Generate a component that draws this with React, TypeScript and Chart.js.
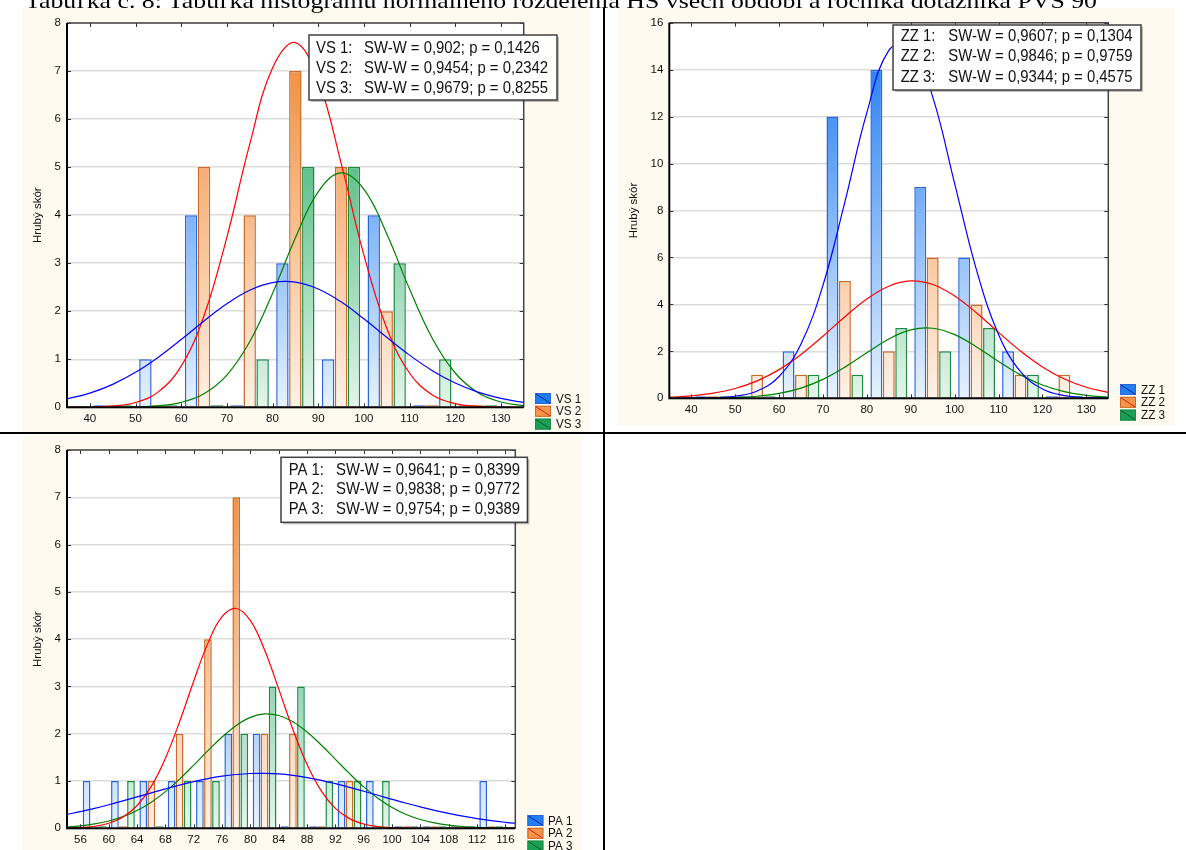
import React, { useEffect, useRef } from 'react';
import { Chart, registerables } from 'chart.js';

Chart.register(...registerables);

const FONT = '"Liberation Sans", Arial, Helvetica, sans-serif';
const SERIF = '"Liberation Serif", "Times New Roman", serif';
const CREAM = '#fefaef';
const TITLE = 'Tabuľka č. 8: Tabuľka histogramu normálneho rozdelenia HS všech období a ročníka dotazníka PVS 90';
const Y_TITLE = 'Hrubý skór';

// ---------------- VS panel ----------------
const vsNames = ['VS 1', 'VS 2', 'VS 3'];
const vsStats = ['SW-W = 0,902; p = 0,1426', 'SW-W = 0,9454; p = 0,2342', 'SW-W = 0,9679; p = 0,8255'];
const vsBins = [45, 55, 65, 75, 85, 95, 105, 115, 125];
const vs1Counts = [0, 1, 4, 0, 3, 1, 4, 0, 0];
const vs2Counts = [0, 0, 5, 4, 7, 5, 2, 0, 0];
const vs3Counts = [0, 0, 0, 1, 5, 5, 3, 1, 0];
const vsXTicks = [40, 50, 60, 70, 80, 90, 100, 110, 120, 130];
const vsYTicks = [0, 1, 2, 3, 4, 5, 6, 7, 8];
const vsCurveX = [35, 40, 45, 50, 55, 60, 65, 70, 75, 80, 85, 90, 95, 100, 105, 110, 115, 120, 125, 130, 135];
const vs1Curve = [0.173, 0.296, 0.478, 0.728, 1.044, 1.411, 1.797, 2.156, 2.437, 2.596, 2.605, 2.463, 2.195, 1.842, 1.457, 1.086, 0.763, 0.505, 0.315, 0.185, 0.102];
const vs2Curve = [0.001, 0.006, 0.026, 0.1, 0.321, 0.856, 1.907, 3.539, 5.474, 7.061, 7.593, 6.808, 5.09, 3.172, 1.649, 0.714, 0.258, 0.078, 0.02, 0.004, 0.001];
const vs3Curve = [0, 0, 0.002, 0.008, 0.031, 0.102, 0.282, 0.671, 1.363, 2.371, 3.526, 4.485, 4.88, 4.541, 3.615, 2.461, 1.433, 0.714, 0.304, 0.111, 0.035];

// ---------------- ZZ panel ----------------
const zzNames = ['ZZ 1', 'ZZ 2', 'ZZ 3'];
const zzStats = ['SW-W = 0,9607; p = 0,1304', 'SW-W = 0,9846; p = 0,9759', 'SW-W = 0,9344; p = 0,4575'];
const zzBins = [45, 55, 65, 75, 85, 95, 105, 115, 125];
const zz1Counts = [0, 0, 2, 12, 14, 9, 6, 2, 0];
const zz2Counts = [0, 1, 1, 5, 2, 6, 4, 1, 1];
const zz3Counts = [0, 0, 1, 1, 3, 2, 3, 1, 0];
const zzXTicks = [40, 50, 60, 70, 80, 90, 100, 110, 120, 130];
const zzYTicks = [0, 2, 4, 6, 8, 10, 12, 14, 16];
const zzCurveX = [35, 40, 45, 50, 55, 60, 65, 70, 75, 80, 85, 90, 95, 100, 105, 110, 115, 120, 125, 130, 135];
const zz1Curve = [0.001, 0.004, 0.021, 0.088, 0.313, 0.93, 2.314, 4.81, 8.368, 12.17, 14.82, 15.08, 12.84, 9.149, 5.452, 2.716, 1.132, 0.395, 0.115, 0.028, 0.006];
const zz2Curve = [0.047, 0.105, 0.217, 0.417, 0.741, 1.222, 1.867, 2.645, 3.474, 4.231, 4.776, 4.998, 4.849, 4.361, 3.636, 2.81, 2.014, 1.337, 0.824, 0.47, 0.249];
const zz3Curve = [0.001, 0.003, 0.011, 0.033, 0.088, 0.207, 0.434, 0.806, 1.328, 1.944, 2.526, 2.914, 2.984, 2.713, 2.19, 1.569, 0.998, 0.564, 0.283, 0.126, 0.05];

// ---------------- PA panel ----------------
const paNames = ['PA 1', 'PA 2', 'PA 3'];
const paStats = ['SW-W = 0,9641; p = 0,8399', 'SW-W = 0,9838; p = 0,9772', 'SW-W = 0,9754; p = 0,9389'];
const paBins = [58, 62, 66, 70, 74, 78, 82, 86, 90, 94, 98, 102, 106, 110, 114];
const pa1Counts = [1, 1, 1, 1, 1, 2, 2, 0, 0, 1, 1, 0, 0, 0, 1];
const pa2Counts = [0, 0, 1, 2, 4, 7, 2, 2, 0, 1, 0, 0, 0, 0, 0];
const pa3Counts = [0, 1, 0, 1, 1, 2, 3, 3, 1, 1, 1, 0, 0, 0, 0];
const paXTicks = [56, 60, 64, 68, 72, 76, 80, 84, 88, 92, 96, 100, 104, 108, 112, 116];
const paYTicks = [0, 1, 2, 3, 4, 5, 6, 7, 8];
const paCurveX = [54, 56, 58, 60, 62, 64, 66, 68, 70, 72, 74, 76, 78, 80, 82, 84, 86, 88, 90, 92, 94, 96, 98, 100, 102, 104, 106, 108, 110, 112, 114, 116, 118];
const pa1Curve = [0.29, 0.352, 0.422, 0.498, 0.579, 0.664, 0.75, 0.834, 0.914, 0.987, 1.051, 1.102, 1.138, 1.159, 1.162, 1.149, 1.118, 1.073, 1.014, 0.944, 0.867, 0.784, 0.698, 0.613, 0.53, 0.452, 0.379, 0.314, 0.256, 0.205, 0.162, 0.127, 0.097];
const pa2Curve = [0.005, 0.016, 0.044, 0.107, 0.238, 0.482, 0.886, 1.483, 2.254, 3.116, 3.916, 4.474, 4.648, 4.39, 3.769, 2.943, 2.088, 1.348, 0.791, 0.422, 0.205, 0.09, 0.036, 0.013, 0.004, 0.001, 0, 0, 0, 0, 0, 0, 0];
const pa3Curve = [0.029, 0.053, 0.092, 0.154, 0.246, 0.377, 0.552, 0.775, 1.04, 1.336, 1.642, 1.932, 2.176, 2.345, 2.418, 2.386, 2.254, 2.037, 1.762, 1.459, 1.155, 0.876, 0.636, 0.441, 0.293, 0.186, 0.114, 0.066, 0.037, 0.02, 0.01, 0.005, 0.002];

// ---------------- styles ----------------
const STYLES = [
  { pale: '#e7f2fd', sat: '#1474f0', border: '#2a66d8', curve: '#0000ff', swatch: '#1f7ef2', swatchLine: '#0b2590' },
  { pale: '#fdf2e7', sat: '#f2842c', border: '#c96a26', curve: '#ff0000', swatch: '#f5964a', swatchLine: '#e01818' },
  { pale: '#e3f5ea', sat: '#12a054', border: '#1c8a45', curve: '#008000', swatch: '#1aa055', swatchLine: '#0a5a25' },
];

type Spec = {
  left: number; top: number; width: number; height: number;
  plot: { l: number; t: number; r: number; b: number };
  xMin: number; xMax: number; xTicks: number[]; yMax: number; yTicks: number[];
  bins: number[]; counts: number[][]; curveX: number[]; curves: number[][];
  names: string[]; stats: string[];
  box: { x: number; y: number; w: number; h: number; labelX: number; textX: number; lines: number[] };
  legend: { x: number; y: number; tx: number };
};

function squeezed(ctx: CanvasRenderingContext2D, text: string, x: number, y: number, k: number) {
  ctx.save();
  ctx.translate(x, y);
  ctx.scale(k, 1);
  ctx.fillText(text, 0, 0);
  ctx.restore();
}

function Panel({ spec }: { spec: Spec }) {
  const ref = useRef<HTMLCanvasElement>(null);
  useEffect(() => {
    const p = spec;
    const canvas = ref.current as HTMLCanvasElement;
    const decor = {
      id: 'decor',
      beforeDraw(chart: any) {
        const { ctx, chartArea: a, width, height } = chart;
        ctx.save();
        ctx.fillStyle = CREAM;
        ctx.fillRect(0, 0, width, height);
        ctx.fillStyle = '#ffffff';
        ctx.fillRect(a.left, a.top, a.right - a.left, a.bottom - a.top);
        ctx.restore();
      },
      afterDatasetsDraw(chart: any) {
        const { ctx, chartArea: a, scales } = chart;
        const xs = scales.x;
        const ys = scales.y;
        ctx.save();
        ctx.strokeStyle = '#333333';
        ctx.lineWidth = 1;
        ctx.beginPath();
        for (const v of p.xTicks) {
          const px = Math.round(xs.getPixelForValue(v)) + 0.5;
          ctx.moveTo(px, a.top);
          ctx.lineTo(px, a.top + 4);
          ctx.moveTo(px, a.bottom);
          ctx.lineTo(px, a.bottom - 4);
        }
        for (const v of p.yTicks) {
          const py = Math.round(ys.getPixelForValue(v)) + 0.5;
          ctx.moveTo(a.left, py);
          ctx.lineTo(a.left + 4, py);
          ctx.moveTo(a.right, py);
          ctx.lineTo(a.right - 4, py);
        }
        ctx.stroke();
        ctx.strokeStyle = '#444444';
        ctx.lineWidth = 1.5;
        ctx.beginPath();
        ctx.moveTo(a.left, a.top);
        ctx.lineTo(a.right, a.top);
        ctx.lineTo(a.right, a.bottom);
        ctx.stroke();
        ctx.strokeStyle = '#000000';
        ctx.lineWidth = 2;
        ctx.beginPath();
        ctx.moveTo(a.left, a.top);
        ctx.lineTo(a.left, a.bottom);
        ctx.lineTo(a.right, a.bottom);
        ctx.stroke();
        ctx.restore();
      },
      afterDraw(chart: any) {
        const ctx: CanvasRenderingContext2D = chart.ctx;
        const b = p.box;
        ctx.save();
        ctx.fillStyle = 'rgba(0,0,0,0.25)';
        ctx.fillRect(b.x + 2, b.y + 2, b.w, b.h);
        ctx.fillStyle = '#ffffff';
        ctx.fillRect(b.x, b.y, b.w, b.h);
        ctx.strokeStyle = '#404040';
        ctx.lineWidth = 1.5;
        ctx.strokeRect(b.x, b.y, b.w, b.h);
        ctx.fillStyle = '#111111';
        ctx.font = `17px ${FONT}`;
        ctx.textBaseline = 'middle';
        ctx.textAlign = 'left';
        p.names.forEach((n, i) => {
          squeezed(ctx, n + ':', b.labelX, b.lines[i], 0.875);
          squeezed(ctx, p.stats[i], b.textX, b.lines[i], 0.875);
        });
        const L = p.legend;
        ctx.font = `13px ${FONT}`;
        p.names.forEach((n, i) => {
          const st = STYLES[i];
          const y = L.y + i * 12.8;
          ctx.fillStyle = st.swatch;
          ctx.fillRect(L.x, y, 16, 11);
          ctx.strokeStyle = st.border;
          ctx.lineWidth = 1;
          ctx.strokeRect(L.x + 0.5, y + 0.5, 15, 10);
          ctx.strokeStyle = st.swatchLine;
          ctx.beginPath();
          ctx.moveTo(L.x + 1, y + 1);
          ctx.lineTo(L.x + 15, y + 10);
          ctx.stroke();
          ctx.fillStyle = '#111111';
          squeezed(ctx, n, L.tx, y + 6, 0.9);
        });
        ctx.restore();
      },
    };

    const lineSets = p.curves.map((c, i) => ({
      type: 'line' as const,
      label: p.names[i] + ' curve',
      data: p.curveX.map((x, j) => ({ x, y: c[j] })),
      borderColor: STYLES[i].curve,
      borderWidth: 1.2,
      pointRadius: 0,
      tension: 0.4,
      fill: false,
      order: 0,
    }));
    const barSets = p.counts.map((c, i) => ({
      type: 'bar' as const,
      label: p.names[i],
      data: p.bins.map((x, j) => ({ x, y: c[j] })),
      backgroundColor: (ctx: any) => {
        const a = ctx.chart.chartArea;
        if (!a) return STYLES[i].sat;
        const g = ctx.chart.ctx.createLinearGradient(0, a.bottom, 0, a.top);
        g.addColorStop(0, STYLES[i].pale);
        g.addColorStop(1, STYLES[i].sat);
        return g;
      },
      borderColor: STYLES[i].border,
      borderWidth: 1.5,
      categoryPercentage: 0.85,
      barPercentage: 0.96,
      minBarLength: 2,
      order: 1,
    }));

    const tickFont = { family: FONT, size: 11.5 };
    const chart = new Chart(canvas, {
      type: 'bar',
      data: { datasets: [...lineSets, ...barSets] as any },
      options: {
        responsive: false,
        animation: false,
        devicePixelRatio: 1,
        layout: {
          padding: { left: 0, top: p.plot.t, right: p.width - p.plot.r, bottom: p.height - p.plot.b - 20 },
        },
        plugins: { legend: { display: false }, tooltip: { enabled: false }, title: { display: false } },
        scales: {
          x: {
            type: 'linear',
            min: p.xMin,
            max: p.xMax,
            offset: false,
            afterBuildTicks: (ax: any) => { ax.ticks = p.xTicks.map((v) => ({ value: v })); },
            afterFit: (ax: any) => { ax.height = 20; },
            grid: { display: false, drawTicks: false },
            border: { display: false },
            ticks: { font: tickFont, color: '#111111', padding: 5, maxRotation: 0, autoSkip: false },
          },
          y: {
            type: 'linear',
            min: 0,
            max: p.yMax,
            afterBuildTicks: (ax: any) => { ax.ticks = p.yTicks.map((v) => ({ value: v })); },
            afterFit: (ax: any) => { ax.width = p.plot.l; },
            grid: { color: '#dcdcdc', lineWidth: 1.5, drawTicks: false },
            border: { display: false },
            ticks: { font: tickFont, color: '#111111', padding: 6, autoSkip: false },
            title: { display: true, text: Y_TITLE, font: tickFont, color: '#111111', padding: { top: 9.4, bottom: 0 } },
          },
        },
      } as any,
      plugins: [decor],
    });
    return () => chart.destroy();
  }, [spec]);
  return (
    <canvas
      ref={ref}
      width={spec.width}
      height={spec.height}
      style={{ position: 'absolute', left: spec.left, top: spec.top, width: spec.width, height: spec.height }}
    />
  );
}

const vsSpec: Spec = {
  left: 22, top: 8, width: 568, height: 424,
  plot: { l: 45, t: 15, r: 501.7, b: 399.3 },
  xMin: 35, xMax: 135, xTicks: vsXTicks, yMax: 8, yTicks: vsYTicks,
  bins: vsBins, counts: [vs1Counts, vs2Counts, vs3Counts],
  curveX: vsCurveX, curves: [vs1Curve, vs2Curve, vs3Curve],
  names: vsNames, stats: vsStats,
  box: { x: 287, y: 27, w: 248, h: 65, labelX: 294, textX: 342, lines: [40, 60, 80] },
  legend: { x: 513, y: 385, tx: 534 },
};

const zzSpec: Spec = {
  left: 618, top: 8, width: 557, height: 417,
  plot: { l: 51.3, t: 14.7, r: 490.3, b: 390.3 },
  xMin: 35, xMax: 135, xTicks: zzXTicks, yMax: 16, yTicks: zzYTicks,
  bins: zzBins, counts: [zz1Counts, zz2Counts, zz3Counts],
  curveX: zzCurveX, curves: [zz1Curve, zz2Curve, zz3Curve],
  names: zzNames, stats: zzStats,
  box: { x: 275, y: 17, w: 248, h: 65, labelX: 282.7, textX: 330.3, lines: [28.7, 48.7, 69.7] },
  legend: { x: 502, y: 376, tx: 523 },
};

const paSpec: Spec = {
  left: 22, top: 435, width: 560, height: 415,
  plot: { l: 45, t: 15, r: 493.3, b: 393.3 },
  xMin: 54.1, xMax: 117.4, xTicks: paXTicks, yMax: 8, yTicks: paYTicks,
  bins: paBins, counts: [pa1Counts, pa2Counts, pa3Counts],
  curveX: paCurveX, curves: [pa1Curve, pa2Curve, pa3Curve],
  names: paNames, stats: paStats,
  box: { x: 259, y: 22.3, w: 246.4, h: 65, labelX: 266.7, textX: 314, lines: [35, 54.3, 74] },
  legend: { x: 505.4, y: 380, tx: 526 },
};

export default function App() {
  return (
    <div style={{ position: 'fixed', left: 0, top: 0, width: 1186, height: 850, overflow: 'hidden', background: '#ffffff' }}>
      <Panel spec={vsSpec} />
      <Panel spec={zzSpec} />
      <Panel spec={paSpec} />
      <svg width={1186} height={14} style={{ position: 'absolute', left: 0, top: 0 }}>
        <text x={25} y={7.5} fontFamily={SERIF} fontSize={21} textLength={1072} lengthAdjust="spacingAndGlyphs" fill="#000000">
          {TITLE}
        </text>
      </svg>
      <div style={{ position: 'absolute', left: 0, top: 432, width: 1186, height: 2, background: '#000000' }} />
      <div style={{ position: 'absolute', left: 603, top: 8, width: 2, height: 842, background: '#000000' }} />
    </div>
  );
}
